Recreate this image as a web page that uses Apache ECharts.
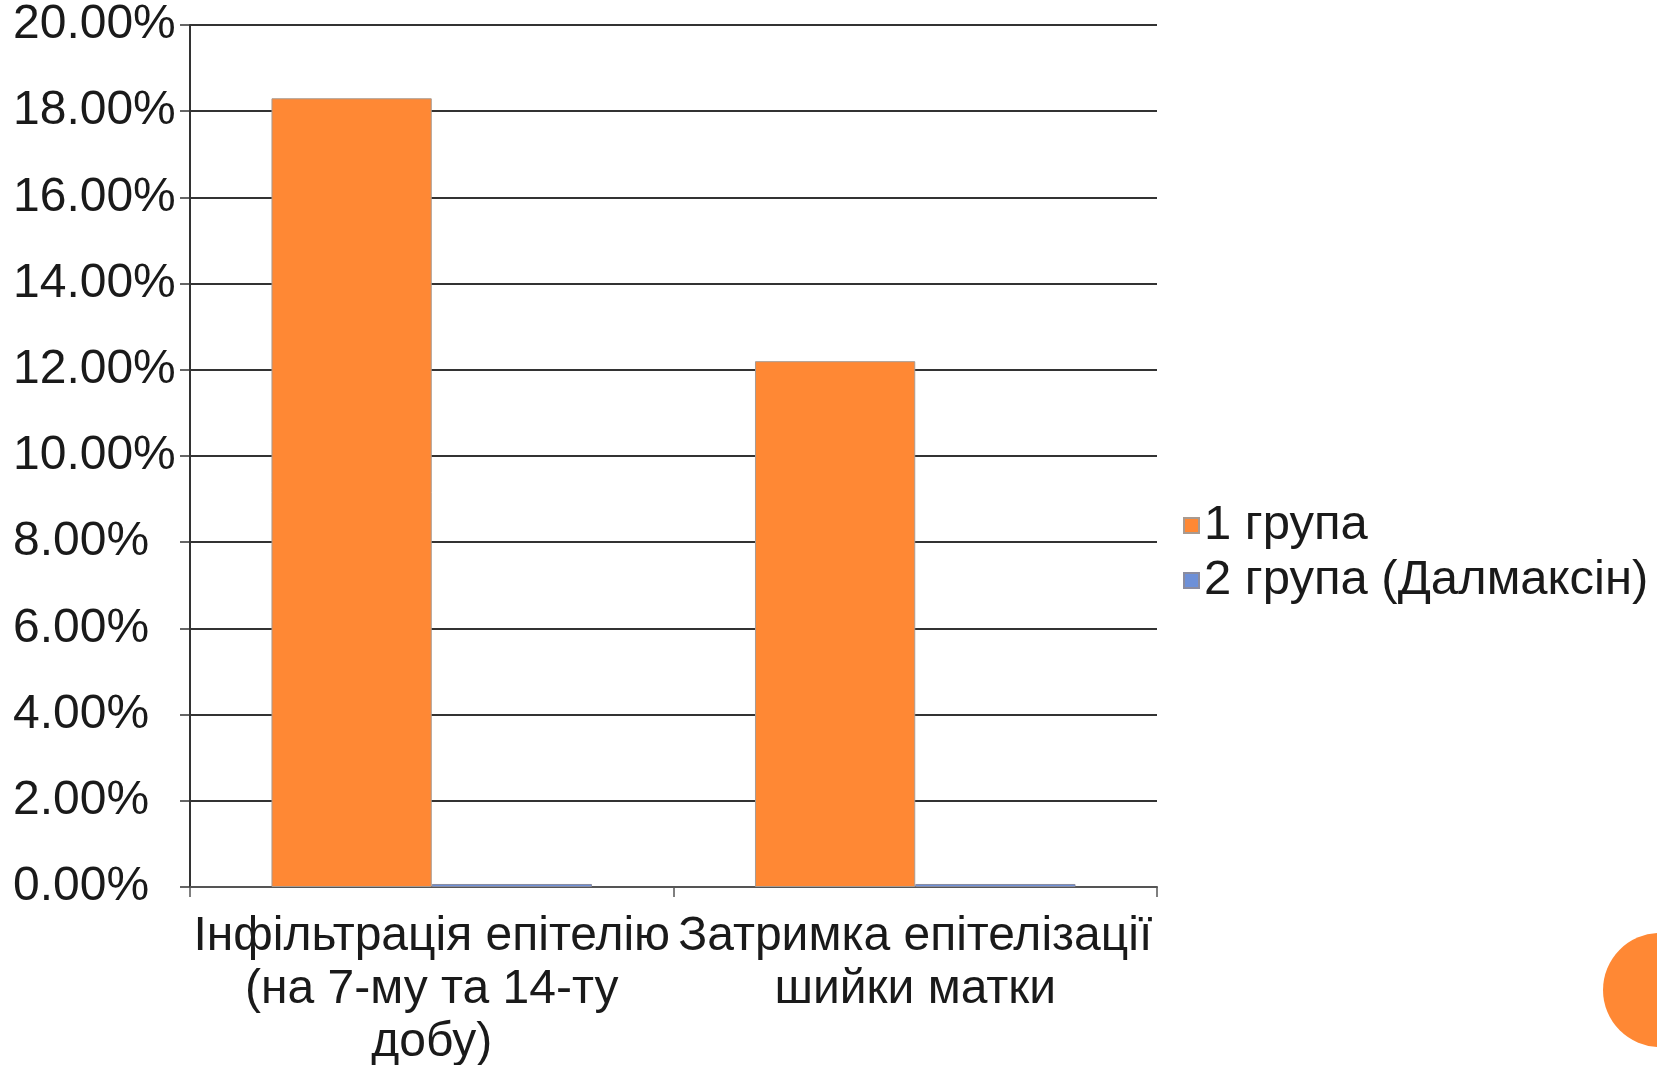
<!DOCTYPE html>
<html>
<head>
<meta charset="utf-8">
<script src="https://cdn.jsdelivr.net/npm/echarts@6/dist/echarts.min.js"></script>
<style>
html,body{margin:0;padding:0;background:#fff;}
#chart{width:1657px;height:1065px;}
</style>
</head>
<body>
<div id="chart"></div>
<script>
const categories = ["Інфільтрація епітелію\n(на 7-му та 14-ту\nдобу)", "Затримка епітелізації\nшийки матки"];
const group1 = [18.3, 12.2];
const group2 = [0.07, 0.07];
const seriesNames = ["1 група", "2 група (Далмаксін)"];
const yTicks = [0, 2, 4, 6, 8, 10, 12, 14, 16, 18, 20];

const chart = echarts.init(document.getElementById('chart'));
const font = '"Liberation Sans", Arial, sans-serif';
chart.setOption({
  animation: false,
  backgroundColor: '#ffffff',
  grid: { left: 190, right: 500, top: 25, bottom: 178, containLabel: false, outerBoundsMode: 'none' },
  legend: {
    orient: 'vertical',
    left: 1178,
    top: 496,
    itemWidth: 15,
    itemHeight: 15,
    itemGap: 6,
    icon: 'rect',
    data: seriesNames,
    textStyle: { fontFamily: font, fontSize: 49, color: '#1a1a1a' }
  },
  xAxis: {
    type: 'category',
    data: categories,
    axisLine: { lineStyle: { color: '#555', width: 2 } },
    axisTick: { show: true, length: 10, lineStyle: { color: '#555', width: 1.5 } },
    axisLabel: {
      interval: 0,
      fontFamily: font,
      fontSize: 48,
      lineHeight: 53,
      color: '#1a1a1a',
      margin: 23
    }
  },
  yAxis: {
    type: 'value',
    min: yTicks[0],
    max: yTicks[yTicks.length - 1],
    interval: 2,
    axisLine: { show: true, lineStyle: { color: '#333', width: 2 } },
    axisTick: { show: true, length: 10, lineStyle: { color: '#333', width: 1.5 } },
    splitLine: { lineStyle: { color: '#333', width: 2 } },
    axisLabel: {
      fontFamily: font,
      fontSize: 48,
      color: '#1a1a1a',
      align: 'left',
      margin: 177,
      formatter: v => v.toFixed(2) + '%'
    }
  },
  series: [
    {
      name: seriesNames[0],
      type: 'bar',
      data: group1,
      barGap: '0%',
      barCategoryGap: '33.7%',
      itemStyle: { color: '#FF8834', borderColor: '#a89a90', borderWidth: 1 }
    },
    {
      name: seriesNames[1],
      type: 'bar',
      data: group2,
      itemStyle: { color: '#6D90D8', borderColor: '#8a8ca0', borderWidth: 1 }
    }
  ],
  graphic: [
    {
      type: 'circle',
      shape: { cx: 1660, cy: 990, r: 57 },
      style: { fill: '#FF8834' },
      silent: true
    }
  ]
});
</script>
</body>
</html>
